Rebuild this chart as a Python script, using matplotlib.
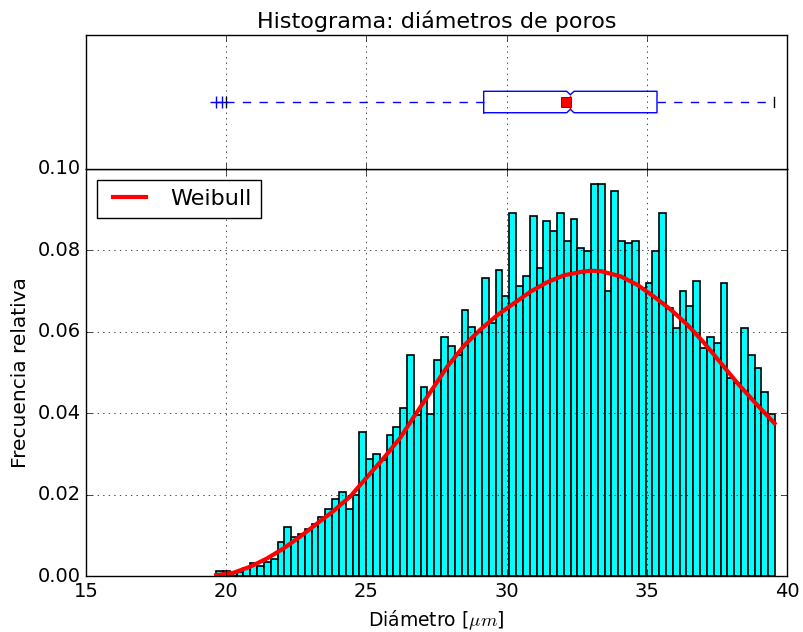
import numpy as np
import matplotlib
matplotlib.use("Agg")
import matplotlib.pyplot as plt

# ---------------- data ----------------
bin_start = 19.643
bin_width = 0.2430
freq = [0.0012, 0.0012, 0.0007, 0.0010, 0.0019, 0.0031, 0.0025, 0.0035, 0.0043, 0.0084,
        0.0121, 0.0097, 0.0102, 0.0116, 0.0128, 0.0146, 0.0165, 0.0188, 0.0207, 0.0165,
        0.0199, 0.0353, 0.0287, 0.0299, 0.0285, 0.0347, 0.0365, 0.0414, 0.0543, 0.0395,
        0.0464, 0.0397, 0.0531, 0.0586, 0.0566, 0.0543, 0.0653, 0.0611, 0.0599, 0.0732,
        0.0622, 0.0751, 0.0689, 0.0891, 0.0713, 0.0738, 0.0885, 0.0756, 0.0872, 0.0848,
        0.0891, 0.0823, 0.0878, 0.0805, 0.0799, 0.0964, 0.0964, 0.0701, 0.0946, 0.0823,
        0.0817, 0.0823, 0.0707, 0.0720, 0.0799, 0.0891, 0.0658, 0.0609, 0.0701, 0.0663,
        0.0726, 0.0561, 0.0586, 0.0573, 0.0719, 0.0487, 0.0475, 0.0610, 0.0543, 0.0512,
        0.0451, 0.0397]

weibull_x = [19.64, 20.26, 20.86, 21.45, 22.05, 22.64, 23.24, 23.83, 24.43, 25.02,
             25.62, 26.21, 26.69, 27.29, 27.88, 28.48, 29.07, 29.67, 30.26, 30.86,
             31.45, 32.05, 32.64, 33.00, 33.36, 34.07, 34.67, 35.26, 35.86, 36.45,
             37.05, 37.64, 38.24, 38.83, 39.55]
weibull_y = [0.0002, 0.0008, 0.0023, 0.0043, 0.0068, 0.0097, 0.0129, 0.0160, 0.0196, 0.0243,
             0.0290, 0.0340, 0.0391, 0.0453, 0.0514, 0.0566, 0.0606, 0.0641, 0.0670, 0.0699,
             0.0722, 0.0739, 0.0747, 0.0750, 0.0749, 0.0736, 0.0715, 0.0686, 0.0654, 0.0617,
             0.0572, 0.0523, 0.0473, 0.0428, 0.0375]

box_q1 = 29.18
box_med = 32.27
box_q3 = 35.36
box_whislo = 20.00
box_whishi = 39.55
box_mean = 32.10
box_cilo = 32.14
box_cihi = 32.40
box_fliers = [19.64, 19.85]

xticks = [15, 20, 25, 30, 35, 40]
yticks = [0.00, 0.02, 0.04, 0.06, 0.08, 0.10]

# ---------------- figure ----------------
plt.style.use("classic")
fig = plt.figure(figsize=(8.04, 6.32), dpi=100)
fig.patch.set_facecolor("white")

L, R = 0.107, 0.979
ax = fig.add_axes([L, 0.0886, R - L, 0.7326 - 0.0886])
axb = fig.add_axes([L, 0.7326, R - L, 0.9446 - 0.7326], sharex=ax)

edges = bin_start + bin_width * np.arange(len(freq) + 1)
ax.bar(edges[:-1], freq, width=bin_width, align="edge",
       color="cyan", edgecolor="black", linewidth=1.2)
ax.plot(weibull_x, weibull_y, color="red", linewidth=3, label="Weibull")

ax.set_xlim(15, 40)
ax.set_ylim(0, 0.10)
ax.set_xticks(xticks)
ax.set_yticks(yticks)
ax.set_yticklabels(["%.2f" % v for v in yticks])
ax.grid(True, linestyle=":", color="black")
ax.set_xlabel(r"Diámetro [$\mu m$]", fontsize=13.5)
ax.set_ylabel("Frecuencia relativa", fontsize=14.5)
ax.tick_params(labelsize=14)
leg = ax.legend(loc="upper left", fontsize=16, handlelength=2.1, handletextpad=0.8)

stats = [dict(med=box_med, q1=box_q1, q3=box_q3, whislo=box_whislo, whishi=box_whishi,
              mean=box_mean, cilo=box_cilo, cihi=box_cihi, fliers=box_fliers)]
w = 0.16
res = axb.bxp(stats, positions=[1], widths=w, vert=False, shownotches=True, showmeans=True,
              boxprops=dict(color="blue"),
              whiskerprops=dict(color="blue", linestyle="--", dashes=(6, 6)),
              capprops=dict(color="black"),
              medianprops=dict(color="red"),
              flierprops=dict(marker="+", markeredgecolor="blue", markersize=8),
              meanprops=dict(marker="s", markerfacecolor="red", markeredgecolor="black",
                             markersize=7))
# shallower notch, like the reference
box = res["boxes"][0]
yd = np.asarray(box.get_ydata(), dtype=float)
yd = np.where(np.isclose(yd, 1 + w * 0.25), 1 + w * 0.34, yd)
yd = np.where(np.isclose(yd, 1 - w * 0.25), 1 - w * 0.34, yd)
box.set_ydata(yd)
med = res["medians"][0]
my = np.asarray(med.get_ydata(), dtype=float)
med.set_ydata(np.where(my > 1, 1 + w * 0.34, 1 - w * 0.34))

axb.set_ylim(0.5, 1.5)
axb.set_yticks([])
axb.grid(True, axis="x", linestyle=":", color="black")
axb.tick_params(labelbottom=False)
axb.set_title("Histograma: diámetros de poros", fontsize=16)

fig.savefig("out.png", dpi=100, facecolor="white")
